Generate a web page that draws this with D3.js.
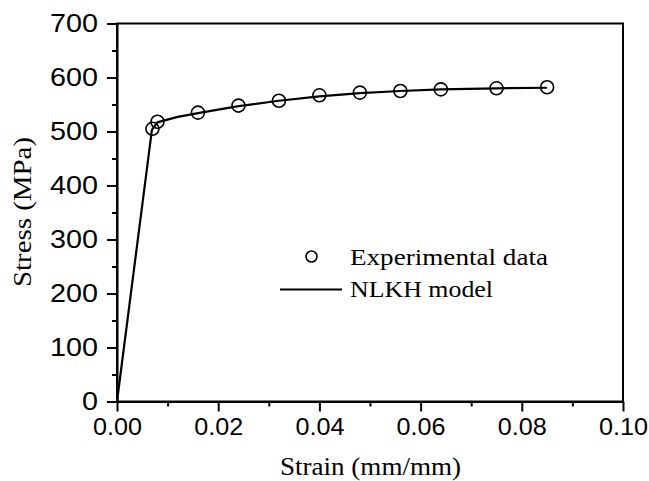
<!DOCTYPE html>
<html>
<head>
<meta charset="utf-8">
<script src="https://cdn.jsdelivr.net/npm/d3@7"></script>
<style>
  html, body { margin: 0; padding: 0; background: #fff; }
  svg { display: block; }
  .sans { font-family: 'Liberation Sans', Arial, Helvetica, sans-serif; }
  .serif { font-family: 'Liberation Serif', 'Times New Roman', Times, serif; }
</style>
</head>
<body>
<svg id="chart" width="649" height="481"></svg>
<script>
// ---- data ----
const expStrain = [0.007, 0.008, 0.016, 0.024, 0.032, 0.040, 0.048, 0.056, 0.064, 0.075, 0.085];
const expStress = [505, 518, 535, 548, 557, 567, 572, 575, 578, 580, 582];
const modelStrain = [0, 0.0069, 0.008, 0.012, 0.016, 0.024, 0.032, 0.040, 0.048, 0.056, 0.064, 0.075, 0.085];
const modelStress = [0, 503, 517, 527, 534, 547, 557, 565, 571, 575, 578, 580, 581];
const xTicks = [0, 0.02, 0.04, 0.06, 0.08, 0.10];
const yTicks = [0, 100, 200, 300, 400, 500, 600, 700];
const xMinor = [0.01, 0.03, 0.05, 0.07, 0.09];
const yMinor = [50, 150, 250, 350, 450, 550, 650];
const legendLabels = ["Experimental data", "NLKH model"];

// ---- layout ----
const L = 117, R = 623, T = 23.5, B = 401.5;
const svg = d3.select("#chart");
const x = d3.scaleLinear().domain([0, 0.1]).range([L, R]);
const y = d3.scaleLinear().domain([0, 700]).range([B, T]);

// frame
svg.append("rect").attr("x", L).attr("y", T).attr("width", R - L).attr("height", B - T)
  .attr("fill", "none").attr("stroke", "#000").attr("stroke-width", 2);

// x axis
const xAxis = d3.axisBottom(x).tickValues(xTicks).tickFormat(d3.format(".2f"))
  .tickSize(10).tickSizeOuter(0).tickPadding(6);
const gx = svg.append("g").attr("transform", `translate(0,${B})`).call(xAxis);
gx.attr("font-family", null).attr("font-size", null);
gx.select(".domain").attr("stroke-width", 2);
gx.selectAll(".tick line").attr("stroke-width", 2);
gx.selectAll("text").attr("class", "sans").style("font-size", "24px").attr("fill", "#000")
  .attr("textLength", 49).attr("lengthAdjust", "spacingAndGlyphs");
const gxm = svg.append("g").attr("transform", `translate(0,${B})`)
  .call(d3.axisBottom(x).tickValues(xMinor).tickSize(5).tickFormat(""));
gxm.select(".domain").remove();
gxm.selectAll(".tick line").attr("stroke-width", 2);

// y axis
const yAxis = d3.axisLeft(y).tickValues(yTicks).tickSize(10).tickSizeOuter(0).tickPadding(9);
const gy = svg.append("g").attr("transform", `translate(${L},0)`).call(yAxis);
gy.attr("font-family", null).attr("font-size", null);
gy.select(".domain").attr("stroke-width", 2);
gy.selectAll(".tick line").attr("stroke-width", 2);
gy.selectAll("text").attr("class", "sans").style("font-size", "26px").attr("fill", "#000")
  .attr("textLength", d => String(d).length * 16).attr("lengthAdjust", "spacingAndGlyphs");
const gym = svg.append("g").attr("transform", `translate(${L},0)`)
  .call(d3.axisLeft(y).tickValues(yMinor).tickSize(5).tickFormat(""));
gym.select(".domain").remove();
gym.selectAll(".tick line").attr("stroke-width", 2);

// model line
const line = d3.line().x(d => x(d[0])).y(d => y(d[1])).curve(d3.curveLinear);
svg.append("path").datum(modelStrain.map((s, i) => [s, modelStress[i]]))
  .attr("d", line).attr("fill", "none").attr("stroke", "#000").attr("stroke-width", 2.2);

// experimental points
svg.append("g").selectAll("circle").data(expStrain.map((s, i) => [s, expStress[i]]))
  .enter().append("circle")
  .attr("cx", d => x(d[0])).attr("cy", d => y(d[1])).attr("r", 6.5)
  .attr("fill", "none").attr("stroke", "#000").attr("stroke-width", 1.6);

// axis titles
svg.append("text").attr("class", "serif").attr("x", 370.5).attr("y", 475).attr("text-anchor", "middle")
  .style("font-size", "24.5px")
  .attr("textLength", 181).attr("lengthAdjust", "spacingAndGlyphs")
  .text("Strain (mm/mm)");
svg.append("text").attr("class", "serif").attr("transform", "translate(31,212) rotate(-90)")
  .attr("text-anchor", "middle").style("font-size", "24.5px")
  .attr("textLength", 150).attr("lengthAdjust", "spacingAndGlyphs")
  .text("Stress (MPa)");

// legend
const lg = svg.append("g");
lg.append("circle").attr("cx", 311.5).attr("cy", 256.5).attr("r", 5.5)
  .attr("fill", "none").attr("stroke", "#000").attr("stroke-width", 1.6);
lg.append("text").attr("class", "serif").attr("x", 350).attr("y", 265).style("font-size", "23.5px")
  .attr("textLength", 198).attr("lengthAdjust", "spacingAndGlyphs").text(legendLabels[0]);
lg.append("line").attr("x1", 280).attr("x2", 342).attr("y1", 289.5).attr("y2", 289.5)
  .attr("stroke", "#000").attr("stroke-width", 2.2);
lg.append("text").attr("class", "serif").attr("x", 350).attr("y", 297).style("font-size", "23.5px")
  .attr("textLength", 143).attr("lengthAdjust", "spacingAndGlyphs").text(legendLabels[1]);
</script>
</body>
</html>
